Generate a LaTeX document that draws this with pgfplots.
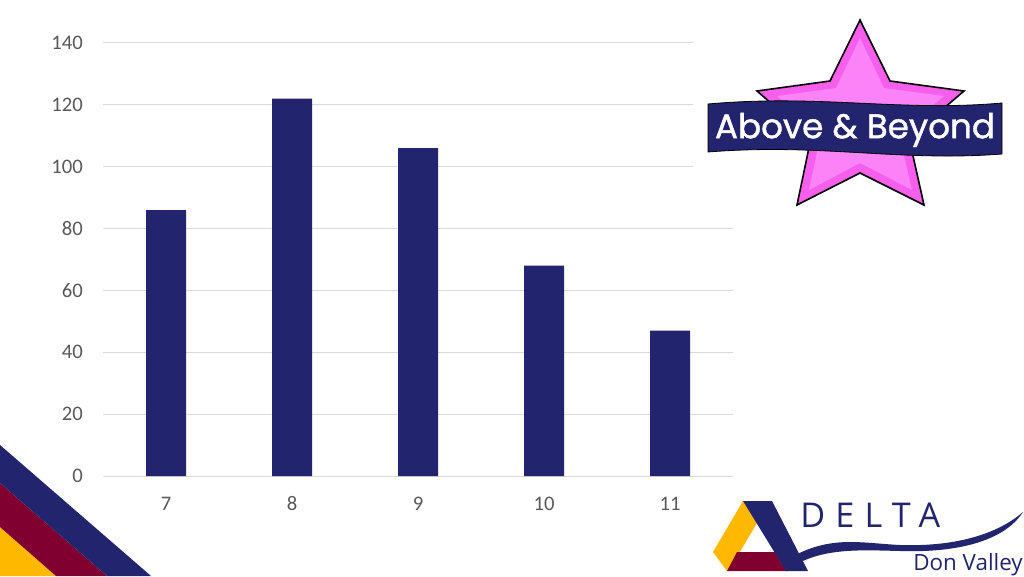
\documentclass[border=0pt]{standalone}
\usepackage{fontspec}
\setmainfont{Carlito}
\newfontfamily\bannerfont[FakeBold=1.2]{Poppins}
\newfontfamily\deltafont[LetterSpace=30]{Open Sans}
\newfontfamily\dvfont{Open Sans}
\usepackage{graphicx}
\usepackage{pgfplots}
\pgfplotsset{compat=1.18}
\definecolor{navy}{RGB}{35,36,110}
\definecolor{gridgray}{RGB}{217,217,217}
\definecolor{ticklabel}{RGB}{89,89,89}
\definecolor{starpink}{RGB}{245,95,235}
\definecolor{starlight}{RGB}{252,130,248}
\definecolor{maroon}{RGB}{128,0,48}
\definecolor{gold}{RGB}{255,184,0}
\begin{document}
\begin{tikzpicture}
\path[use as bounding box, fill=white] (0,0) rectangle (768pt,432pt);
\begin{axis}[
  at={(77.25pt,75pt)}, anchor=south west, scale only axis,
  width=472.5pt, height=324.75pt,
  xmin=6.5, xmax=11.5, ymin=0, ymax=140,
  xtick={7,8,9,10,11}, ytick={0,20,...,140},
  axis line style={draw=none},
  major tick length=0pt,
  ymajorgrids, grid style={gridgray, line width=0.75pt},
  tick label style={font=\fontsize{15.5pt}{18pt}\selectfont, text=ticklabel},
  /pgf/number format/assume math mode=true,
  yticklabel style={inner sep=0pt, xshift=-15pt},
  xticklabel style={inner sep=0pt, anchor=base, yshift=-25.5pt},
  ybar, bar width=30pt,
]
\addplot[fill=navy, draw=none] coordinates {(7,86) (8,122) (9,106) (10,68) (11,47)};
\end{axis}
\begin{scope}[shift={(0pt,432pt)}, x=0.75pt, y=-0.75pt]
  % white backdrop of the badge
  \fill[white] (693,0) rectangle (1024,212);
  % star
  \draw[fill=starpink, line width=1.2pt, line join=miter]
    (860,20) -- (830,81) -- (757,91) -- (811,138) -- (797,205) -- (860,173)
    -- (924,205) -- (909,138) -- (964,91) -- (890,81) -- cycle;
  \fill[starlight]
    (860,38) -- (836,88) -- (777,96) -- (821,134) -- (809,190) -- (860,163)
    -- (912,190) -- (899,134) -- (944,96) -- (884,88) -- cycle;
  % banner
  \draw[fill=navy, line width=0.6pt]
    (708,104) .. controls (820,94) and (900,112) .. (1002,103)
    -- (1002,154) .. controls (900,162) and (820,143) .. (708,152) -- cycle;
  \node[text=white, inner sep=0pt] at (855,130)
    {\resizebox{210pt}{!}{\bannerfont Above \& Beyond}};
  % bottom-left stripes
  \fill[gold] (0,527) -- (56,576) -- (0,576) -- cycle;
  \fill[maroon] (0,483) -- (107,576) -- (56,576) -- (0,527) -- cycle;
  \fill[navy] (0,445) -- (151,576) -- (107,576) -- (0,483) -- cycle;
  % Delta logo
  \fill[navy] (790,558) .. controls (830,535) and (860,543) .. (900,545)
     .. controls (960,547) and (1000,532) .. (1023,512)
     .. controls (1005,540) and (960,553) .. (900,551)
     .. controls (860,550) and (825,548) .. (795,565) -- cycle;
  \fill[gold] (743,501) -- (757,523) -- (731,567) -- (727,571) -- (713,552) -- cycle;
  \fill[maroon] (737,552) -- (779,552) -- (788,571) -- (727,571) -- cycle;
  \fill[navy] (743,501) -- (772,501) -- (808,571) -- (786,571) -- cycle;
  \node[text=navy, inner sep=0pt, anchor=west] at (800,515)
    {\resizebox{105pt}{!}{\deltafont DELTA}};
  \node[text=navy, inner sep=0pt, anchor=east] at (1023,565)
    {\resizebox{82pt}{!}{\dvfont Don Valley}};
\end{scope}
\end{tikzpicture}
\end{document}
